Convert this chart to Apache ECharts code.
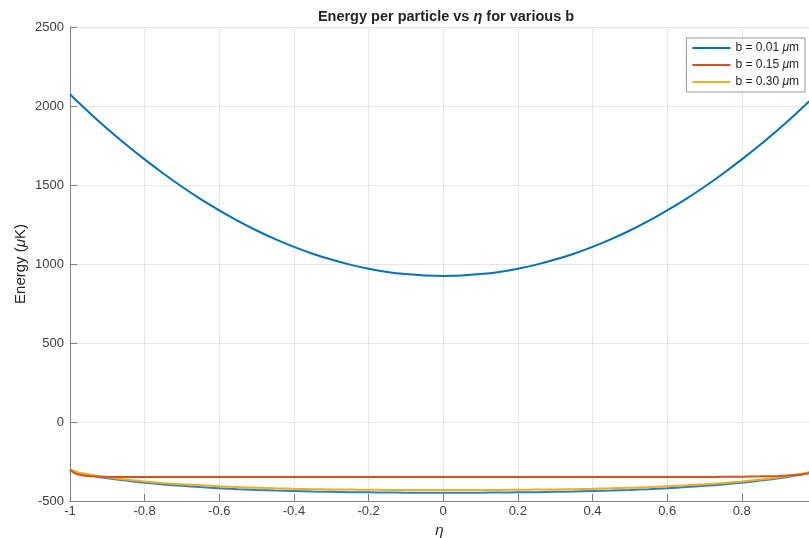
<!DOCTYPE html>
<html>
<head>
<meta charset="utf-8">
<script src="https://cdn.jsdelivr.net/npm/echarts@6/dist/echarts.min.js"></script>
<style>
html,body{margin:0;padding:0;background:#fff;}
#c{width:809px;height:538px;}
</style>
</head>
<body>
<div id="c"></div>
<script>
var eta = [-1, -0.99, -0.98, -0.96, -0.94, -0.92, -0.9, -0.85, -0.8, -0.75, -0.7, -0.65, -0.6, -0.55, -0.5, -0.45, -0.4, -0.35, -0.3, -0.25, -0.2, -0.15, -0.1, -0.05, 0,
           0.05, 0.1, 0.15, 0.2, 0.25, 0.3, 0.35, 0.4, 0.45, 0.5, 0.55, 0.6, 0.65, 0.7, 0.75, 0.8, 0.85, 0.9, 0.92, 0.94, 0.96, 0.98, 0.99, 1];
var energyB001 = [2075, 2051, 2028, 1984, 1940, 1897, 1856, 1756, 1662, 1573, 1489, 1411, 1340, 1273, 1212, 1157, 1108, 1065, 1028, 996, 970, 950, 936, 927, 924,
                  927, 936, 950, 970, 996, 1028, 1065, 1108, 1157, 1212, 1273, 1340, 1411, 1489, 1573, 1662, 1756, 1856, 1897, 1940, 1984, 2028, 2051, 2075];
var energyB015 = [-300, -320, -331, -340, -344, -346, -347, -348, -348, -348, -348, -348, -348, -348, -348, -348, -348, -348, -348, -348, -348, -348, -348, -348, -348,
                  -348, -348, -348, -348, -348, -348, -348, -348, -348, -348, -348, -348, -348, -348, -347, -346, -344, -341, -339, -336, -332, -325, -318, -300];
var energyB030 = [-300, -310, -318, -328, -336, -343, -350, -364, -376, -386, -394, -401, -407, -412, -416, -420, -423, -425, -427, -428, -429, -430, -430, -430, -430,
                  -430, -430, -430, -429, -428, -427, -425, -423, -420, -416, -412, -407, -401, -394, -386, -376, -364, -350, -343, -336, -328, -318, -310, -300];
var energyExtra = [-300, -312, -321, -332, -341, -349, -356, -371, -384, -395, -404, -412, -419, -425, -430, -434, -437, -440, -442, -444, -445, -446, -447, -447, -447,
                   -447, -447, -446, -445, -444, -442, -440, -437, -434, -430, -425, -419, -412, -404, -395, -384, -371, -356, -349, -341, -332, -321, -312, -300];
var seriesNames = ['b = 0.01 μm', 'b = 0.15 μm', 'b = 0.30 μm'];
var yTicks = [-500, 0, 500, 1000, 1500, 2000, 2500];

function pairs(ys){ return eta.map(function(x,i){ return [x, ys[i]]; }); }

var FONT = '"Liberation Sans", Arial, Helvetica, sans-serif';
var chart = echarts.init(document.getElementById('c'), null, {renderer:'canvas'});
function mkLine(name, data, color, z){
  return {name:name, type:'line', data:pairs(data), showSymbol:false, symbol:'none', smooth:0.2,
          lineStyle:{color:color, width:2}, itemStyle:{color:color}, z:z, animation:false};
}
chart.setOption({
  animation:false,
  title:{
    text:'{b|Energy per particle vs }{bi|η}{b| for various b}',
    left:441, top:4, textAlign:'center',
    textStyle:{rich:{
      b:{fontFamily:FONT, fontWeight:'bold', fontSize:14.5, color:'#262626'},
      bi:{fontFamily:FONT, fontWeight:'bold', fontStyle:'italic', fontSize:14.5, color:'#262626'}
    }}
  },
  grid:{left:70, right:0, top:27, bottom:37, containLabel:false, outerBoundsMode:'none'},
  legend:{
    data:seriesNames, orient:'vertical', right:4, top:38,
    backgroundColor:'#fff', borderColor:'#999', borderWidth:1, borderRadius:0,
    padding:[4,6,4,6], itemGap:5, itemWidth:38, itemHeight:2, icon:'rect',
    formatter:function(n){ var p=n.split('μ'); return '{n|'+p[0]+'}{i|μ}{n|'+p[1]+'}'; },
    textStyle:{rich:{
      n:{fontFamily:FONT, fontSize:12, color:'#262626'},
      i:{fontFamily:FONT, fontSize:12, fontStyle:'italic', color:'#262626'}
    }}
  },
  xAxis:{
    type:'value', min:-1, max:0.98, interval:0.2,
    name:'η', nameLocation:'middle', nameGap:20,
    nameTextStyle:{fontFamily:FONT, fontSize:15, fontStyle:'italic', color:'#262626'},
    axisLine:{show:true, onZero:false, lineStyle:{color:'#808080', width:1}},
    axisTick:{show:true, inside:true, length:7, lineStyle:{color:'#808080'}},
    axisLabel:{fontFamily:FONT, fontSize:13, color:'#404040', margin:4, showMaxLabel:false},
    splitLine:{show:true, lineStyle:{color:'#e6e6e6', width:1}}
  },
  yAxis:{
    type:'value', min:yTicks[0], max:yTicks[yTicks.length-1], interval:500,
    name:'{n|Energy (}{i|μ}{n|K)}', nameLocation:'middle', nameGap:42, nameRotate:90,
    nameMoveOverlap:false,
    nameTextStyle:{rich:{
      n:{fontFamily:FONT, fontSize:15, color:'#262626'},
      i:{fontFamily:FONT, fontSize:15, fontStyle:'italic', color:'#262626'}
    }},
    axisLine:{show:true, onZero:false, lineStyle:{color:'#808080', width:1}},
    axisTick:{show:true, inside:true, length:7, lineStyle:{color:'#808080'}},
    axisLabel:{fontFamily:FONT, fontSize:13, color:'#404040', margin:6,
               formatter:function(v){ return String(v); }},
    splitLine:{show:true, lineStyle:{color:'#e6e6e6', width:1}}
  },
  series:[
    mkLine(seriesNames[0], energyB001, '#0072BD', 5),
    mkLine('extra', energyExtra, '#2E7FC4', 2),
    mkLine(seriesNames[2], energyB030, '#EDB120', 3),
    mkLine(seriesNames[1], energyB015, '#D95319', 4)
  ]
});
</script>
</body>
</html>
